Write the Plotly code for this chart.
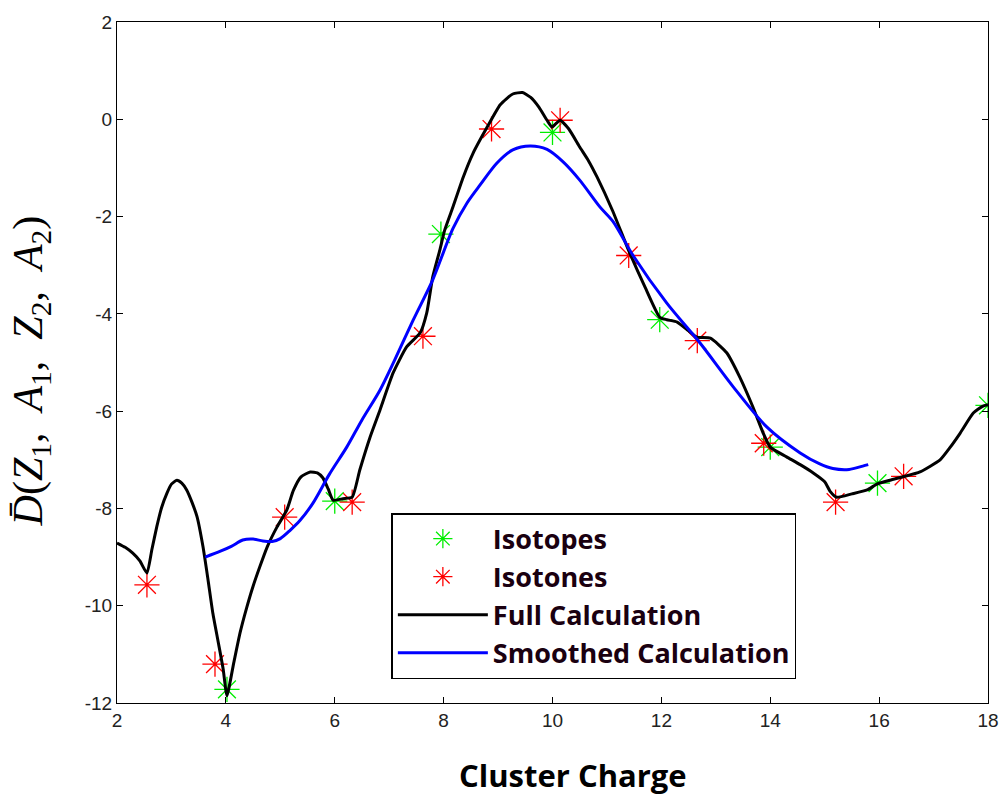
import plotly.graph_objects as go

# Isotopes (green asterisks)
iso_x = [4.02, 6.0, 7.95, 10.0, 11.97, 14.0, 15.97, 18.0]
iso_y = [-11.72, -7.85, -2.36, -0.27, -4.12, -6.74, -7.48, -5.88]

# Isotones (red asterisks)
ison_x = [2.55, 3.8, 5.08, 6.32, 7.62, 8.88, 10.14, 11.4, 12.66, 13.88, 15.2, 16.45]
ison_y = [-9.57, -11.2, -8.18, -7.87, -4.46, -0.2, -0.02, -2.8, -4.55, -6.66, -7.87, -7.34]

# Full calculation (black)
full_x = [2.0, 2.15, 2.29, 2.42, 2.55, 2.64, 2.73, 2.82, 2.92, 3.0, 3.1, 3.19, 3.28, 3.38,
          3.47, 3.58, 3.67, 3.76, 3.86, 3.95, 4.02, 4.14, 4.26, 4.38, 4.5, 4.63, 4.76, 4.94,
          5.12, 5.24, 5.38, 5.55, 5.68, 5.78, 5.88, 5.97, 6.15, 6.32, 6.46, 6.65, 6.83, 7.07,
          7.32, 7.57, 7.69, 7.8, 7.93, 8.02, 8.15, 8.36, 8.54, 8.8, 9.04, 9.27, 9.45, 9.6,
          9.75, 9.9, 9.99, 10.07, 10.14, 10.3, 10.5, 10.66, 10.82, 11.1, 11.4, 11.7, 11.97,
          12.1, 12.29, 12.5, 12.65, 12.9, 13.2, 13.44, 13.68, 13.87, 14.0, 14.3, 14.55, 14.79,
          15.0, 15.1, 15.22, 15.5, 15.78, 15.96, 16.2, 16.44, 16.75, 17.12, 17.3, 17.49,
          17.73, 17.9, 18.0]
full_y = [-8.71, -8.8, -8.92, -9.08, -9.33, -8.85, -8.38, -7.98, -7.68, -7.5, -7.42, -7.48,
          -7.62, -7.88, -8.17, -8.79, -9.45, -10.15, -10.75, -11.3, -11.85, -11.2, -10.56,
          -10.05, -9.6, -9.18, -8.79, -8.38, -8.03, -7.63, -7.35, -7.25, -7.27, -7.37, -7.6,
          -7.83, -7.8, -7.77, -7.21, -6.53, -5.98, -5.22, -4.68, -4.39, -3.98, -3.24, -2.69,
          -2.28, -1.87, -1.19, -0.7, -0.16, 0.3, 0.52, 0.55, 0.45, 0.25, -0.02, -0.16,
          -0.08, -0.02, -0.2, -0.57, -0.85, -1.19, -1.87, -2.7, -3.45, -4.07, -4.12, -4.17,
          -4.35, -4.48, -4.5, -4.8, -5.3, -5.91, -6.45, -6.74, -6.94, -7.1, -7.27, -7.45,
          -7.65, -7.77, -7.7, -7.62, -7.5, -7.42, -7.35, -7.25, -7.0, -6.75, -6.45, -6.04,
          -5.9, -5.87]

# Smoothed calculation (blue)
sm_x = [3.62, 3.9, 4.1, 4.31, 4.5, 4.68, 4.85, 5.0, 5.18, 5.36, 5.6, 5.9, 6.22, 6.5, 6.83,
        7.1, 7.44, 7.8, 8.17, 8.43, 8.67, 8.98, 9.27, 9.59, 9.9, 10.2, 10.5, 10.87,
        11.11, 11.48, 12.1, 12.71, 13.32, 13.94, 14.55, 14.9, 15.15, 15.45, 15.7, 15.8]
sm_y = [-9.0, -8.88, -8.78, -8.65, -8.63, -8.67, -8.68, -8.62, -8.45, -8.25, -7.89, -7.3,
        -6.74, -6.18, -5.57, -4.95, -4.13, -3.3, -2.25, -1.72, -1.35, -0.9, -0.63, -0.55,
        -0.62, -0.88, -1.25, -1.8, -2.1, -2.8, -3.78, -4.6, -5.5, -6.33, -6.86,
        -7.08, -7.18, -7.2, -7.13, -7.1]

x_ticks = [2, 4, 6, 8, 10, 12, 14, 16, 18]
y_ticks = [2, 0, -2, -4, -6, -8, -10, -12]

fig = go.Figure()
fig.add_trace(go.Scatter(x=iso_x, y=iso_y, mode="markers", name="Isotopes", legendgroup="a",
                         marker=dict(symbol="asterisk-open", size=21, color="#00ee00",
                                     line=dict(color="#00ee00", width=1.3))))
fig.add_trace(go.Scatter(x=ison_x, y=ison_y, mode="markers", name="Isotones", legendgroup="b",
                         marker=dict(symbol="asterisk-open", size=21, color="#ff0000",
                                     line=dict(color="#ff0000", width=1.3))))
fig.add_trace(go.Scatter(x=full_x, y=full_y, mode="lines", name="Full Calculation", legendgroup="c",
                         line=dict(color="black", width=3, shape="spline", smoothing=0.5)))
fig.add_trace(go.Scatter(x=sm_x, y=sm_y, mode="lines", name="Smoothed Calculation", legendgroup="d",
                         line=dict(color="#0000ff", width=3, shape="spline", smoothing=0.8)))

axis_common = dict(showgrid=False, zeroline=False, showline=True, linecolor="black",
                   linewidth=1, mirror="ticks", ticks="inside", ticklen=6, tickcolor="black",
                   automargin=False,
                   tickfont=dict(family="Liberation Sans, Arial", size=19, color="#222222"))

fig.update_layout(
    width=1003, height=795,
    margin=dict(l=117, r=15, t=22, b=92),
    paper_bgcolor="white", plot_bgcolor="white",
    xaxis=dict(range=[2, 18], tickvals=x_ticks, ticktext=[str(v) for v in x_ticks], **axis_common),
    yaxis=dict(range=[-12, 2], tickvals=y_ticks, ticktext=[str(v) for v in y_ticks], **axis_common),
    legend=dict(x=0.315, y=0.279, xanchor="left", yanchor="top",
                bgcolor="white", bordercolor="black", borderwidth=1.5,
                font=dict(family="Open Sans", size=27, color="#1a0010", weight="bold"),
                itemwidth=90, tracegroupgap=0),
    showlegend=True,
)

fig.add_annotation(text="<i>D̄</i>(<i>Z</i><sub>1</sub>,&nbsp;&nbsp;<i>A</i><sub>1</sub>,&nbsp;&nbsp;<i>Z</i><sub>2</sub>,&nbsp;&nbsp;<i>A</i><sub>2</sub>)",
                   xref="paper", yref="paper", x=-0.099, y=0.488, textangle=-90,
                   xanchor="center", yanchor="middle",
                   showarrow=False, font=dict(family="Liberation Serif", size=42, color="black"))
fig.add_annotation(text="<b>Cluster Charge</b>", xref="paper", yref="paper",
                   x=0.5235, y=-0.1057, xanchor="center", yanchor="middle", showarrow=False,
                   font=dict(family="Open Sans", size=31, color="black"))

fig.write_html("out.html")
